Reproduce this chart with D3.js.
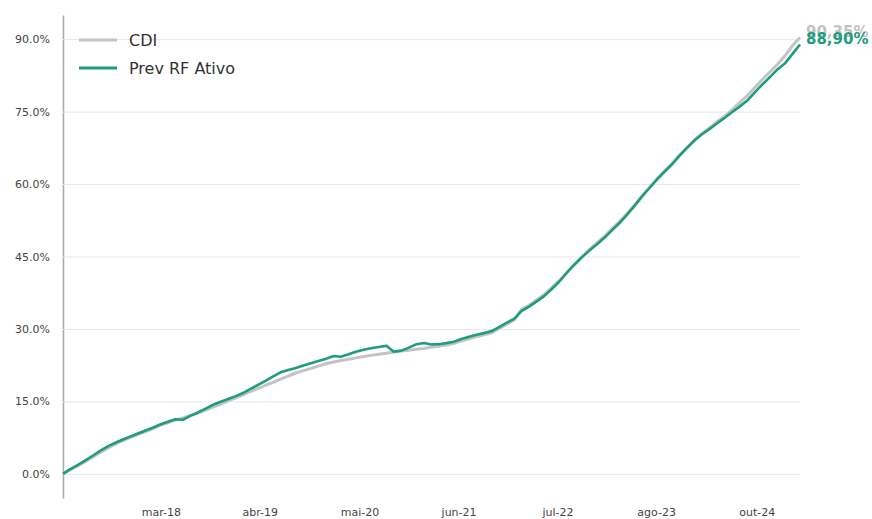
<!DOCTYPE html>
<html>
<head>
<meta charset="utf-8">
<script src="https://cdn.jsdelivr.net/npm/d3@7"></script>
<style>
  body { margin: 0; background: #fff; }
  text { font-family: "DejaVu Sans", sans-serif; }
</style>
</head>
<body>
<svg width="872" height="519"></svg>
<script>
// monthly points, first one is the start of the series (0%)
const months = d3.timeMonth.range(new Date(2017, 1, 1), new Date(2025, 3, 2));

const cdi = [0, 0.83, 1.66, 2.53, 3.46, 4.41, 5.33, 6.16, 6.90, 7.53,
  8.15, 8.77, 9.39, 10.04, 10.58, 11.11, 11.60, 12.10, 12.60, 13.20,
  13.80, 14.45, 15.10, 15.75, 16.40, 17.05, 17.69, 18.31, 18.95, 19.60,
  20.24, 20.88, 21.36, 21.84, 22.31, 22.79, 23.16, 23.45, 23.74, 24.01,
  24.30, 24.53, 24.76, 24.99, 25.22, 25.42, 25.61, 25.80, 25.98, 26.19,
  26.42, 26.65, 27.02, 27.50, 27.97, 28.41, 28.80, 29.20, 30.10, 31.00,
  31.90, 34.00, 34.90, 36.00, 37.10, 38.50, 40.00, 41.70, 43.30, 44.90,
  46.40, 47.80, 49.20, 50.70, 52.20, 53.80, 55.60, 57.50, 59.30, 61.10,
  62.70, 64.30, 66.00, 67.60, 69.20, 70.50, 71.69, 72.91, 74.12, 75.42,
  76.89, 78.39, 80.04, 81.70, 83.26, 84.84, 86.68, 88.63, 90.35];

const prevRF = [0, 0.91, 1.82, 2.74, 3.75, 4.77, 5.70, 6.43, 7.11, 7.73,
  8.36, 8.98, 9.60, 10.22, 10.78, 11.32, 11.20, 11.99, 12.71, 13.52,
  14.31, 14.93, 15.51, 16.09, 16.78, 17.59, 18.41, 19.26, 20.20, 21.03,
  21.48, 21.94, 22.42, 22.91, 23.37, 23.83, 24.39, 24.26, 24.76, 25.30,
  25.71, 26.00, 26.25, 26.54, 25.30, 25.51, 26.13, 26.85, 27.10, 26.79,
  26.85, 27.06, 27.37, 27.91, 28.37, 28.82, 29.14, 29.55, 30.40, 31.31,
  32.14, 33.68, 34.63, 35.67, 36.79, 38.22, 39.77, 41.64, 43.30, 44.87,
  46.22, 47.55, 48.92, 50.35, 51.88, 53.56, 55.43, 57.34, 59.18, 60.97,
  62.54, 64.10, 65.90, 67.54, 69.12, 70.30, 71.42, 72.58, 73.74, 74.90,
  76.08, 77.35, 79.01, 80.67, 82.20, 83.78, 85.08, 86.89, 88.90];

const yTicks = [0, 15, 30, 45, 60, 75, 90];
const xTickDates = [new Date(2018, 2, 4), new Date(2019, 3, 8), new Date(2020, 4, 15),
  new Date(2021, 5, 20), new Date(2022, 6, 25), new Date(2023, 7, 28), new Date(2024, 9, 8)];
const xTickLabels = ["mar-18", "abr-19", "mai-20", "jun-21", "jul-22", "ago-23", "out-24"];

const series = [
  { name: "CDI", values: cdi, color: "#c3c3c3", width: 3 },
  { name: "Prev RF Ativo", values: prevRF, color: "#1f9c7d", width: 2.6 }
];

const svg = d3.select("svg");
const left = 63, right = 800;

const x = d3.scaleTime()
  .domain(d3.extent(months))
  .range([left, right]);

const y = d3.scaleLinear()
  .domain([-5, 95])
  .range([498, 15]);

// y axis + gridlines
const yAxis = svg.append("g")
  .attr("transform", `translate(${left},0)`)
  .call(d3.axisLeft(y)
    .tickValues(yTicks)
    .tickSize(-(right - left))
    .tickSizeOuter(0)
    .tickPadding(13)
    .tickFormat(d => d.toFixed(1) + "%"));
yAxis.select(".domain").attr("stroke", "#a8a8a8").attr("stroke-width", 1.5);
yAxis.selectAll(".tick line").attr("stroke", "#e6e6e6");
yAxis.selectAll(".tick text")
  .attr("fill", "#444")
  .style("font-size", "11px")
  .style("font-family", "DejaVu Sans");

// x axis labels only
const xAxis = svg.append("g")
  .attr("transform", "translate(0,498)")
  .call(d3.axisBottom(x)
    .tickValues(xTickDates)
    .tickSize(0)
    .tickPadding(10)
    .tickFormat((d, i) => xTickLabels[i]));
xAxis.select(".domain").remove();
xAxis.selectAll(".tick text")
  .attr("fill", "#444")
  .style("font-size", "11px")
  .style("font-family", "DejaVu Sans");

const line = d3.line()
  .x((d, i) => x(months[i]))
  .y(d => y(d));

svg.selectAll(".serie")
  .data(series)
  .enter()
  .append("path")
  .attr("class", "serie")
  .attr("fill", "none")
  .attr("stroke", d => d.color)
  .attr("stroke-width", d => d.width)
  .attr("stroke-linejoin", "round")
  .attr("d", d => line(d.values));

// legend
const legend = svg.selectAll(".legend")
  .data(series)
  .enter()
  .append("g")
  .attr("class", "legend")
  .attr("transform", (d, i) => `translate(79,${40 + i * 28})`);
legend.append("line")
  .attr("x1", 0).attr("x2", 38)
  .attr("stroke", d => d.color)
  .attr("stroke-width", 3);
legend.append("text")
  .attr("x", 50)
  .attr("dy", "0.35em")
  .attr("fill", "#333")
  .style("font-size", "16px")
  .text(d => d.name);

// end labels (they sit on top of each other like in the original)
const last = months.length - 1;
svg.selectAll(".endlabel")
  .data(series)
  .enter()
  .append("text")
  .attr("class", "endlabel")
  .attr("x", x(months[last]) + 6)
  .attr("y", d => y(d.values[last]))
  .attr("fill", d => d.color)
  .style("font-size", "15px")
  .style("font-weight", "bold")
  .text(d => d.values[last].toFixed(2).replace(".", ",") + "%");
</script>
</body>
</html>
